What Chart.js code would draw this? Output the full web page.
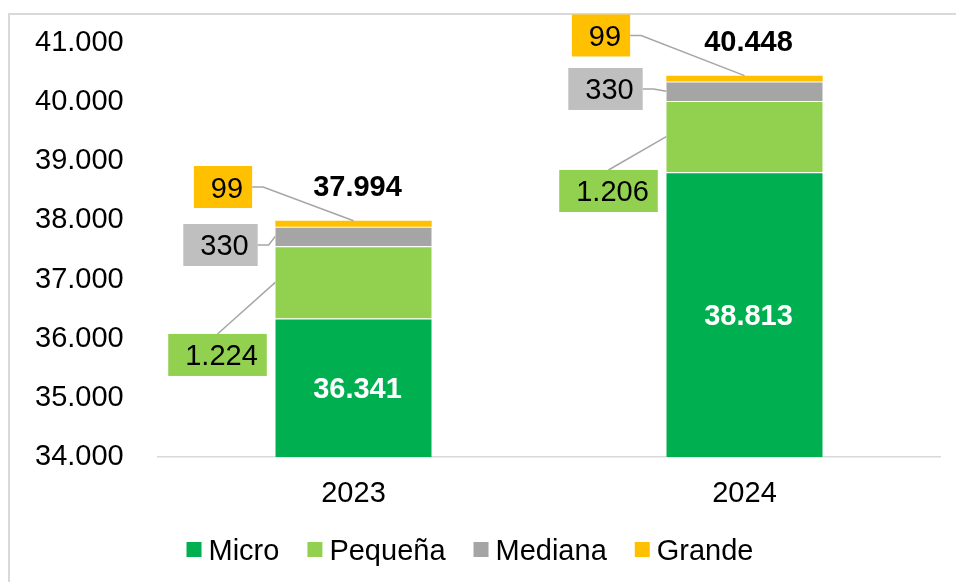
<!DOCTYPE html>
<html>
<head>
<meta charset="utf-8">
<script src="https://cdn.jsdelivr.net/npm/chart.js@4.4.1/dist/chart.umd.min.js"></script>
<style>
  body { margin: 0; background: #fff; }
  #contenedor { width: 956px; height: 582px; }
</style>
</head>
<body>
<div id="contenedor"><canvas id="graficoEmpresas"></canvas></div>
<script>
const anios = ['2023', '2024']
const micro = [36341, 38813]
const pequena = [1224, 1206]
const mediana = [330, 330]
const grande = [99, 99]
const ticksEje = [34000, 35000, 36000, 37000, 38000, 39000, 40000, 41000]

const fuente = '"Liberation Sans", Arial, sans-serif'
const tam = 29

// desplazamiento de cada caja de etiqueta respecto al centro de su segmento
const posEtiquetas = {
    1: [[-136, 72.6], [-136, 54.3]],
    2: [[-133, 8.6], [-139, -2.3]],
    3: [[-130.5, -36.7], [-143.5, -43.1]]
}
const colorCaja = { 1: '#92D050', 2: '#BFBFBF', 3: '#FFC000' }

function formatoMiles(n) {
    return String(n).replace(/\B(?=(\d{3})+(?!\d))/g, '.')
}

const marco = {
    id: 'marco',
    beforeDraw(chart) {
        const ctx = chart.ctx
        ctx.save()
        ctx.strokeStyle = '#D9D9D9'
        ctx.lineWidth = 2
        ctx.beginPath()
        ctx.moveTo(9, chart.height + 5)
        ctx.lineTo(9, 14)
        ctx.lineTo(chart.width + 5, 14)
        ctx.stroke()
        ctx.restore()
    }
}

// leyenda propia: cuadro, 7px, texto, 28px hasta el siguiente
const leyenda = {
    id: 'leyenda',
    afterDraw(chart) {
        const ctx = chart.ctx
        ctx.save()
        ctx.font = `${tam}px ${fuente}`
        ctx.textBaseline = 'alphabetic'
        ctx.textAlign = 'left'
        const items = chart.data.datasets.map(ds => ({ texto: ds.label, color: ds.backgroundColor, w: ctx.measureText(ds.label).width }))
        const total = items.reduce((s, it) => s + 15 + 7 + it.w, 0) + 28 * (items.length - 1)
        let x = 470 - total / 2
        const yc = 549.5
        items.forEach(it => {
            ctx.fillStyle = it.color
            ctx.fillRect(x, yc - 7.5, 15, 15)
            ctx.fillStyle = '#000'
            ctx.fillText(it.texto, x + 22, yc + 10.5)
            x += 15 + 7 + it.w + 28
        })
        ctx.restore()
    }
}

const etiquetas = {
    id: 'etiquetas',
    afterDatasetsDraw(chart) {
        const ctx = chart.ctx
        const fondo = chart.chartArea.bottom
        ctx.save()
        ctx.textBaseline = 'alphabetic'
        chart.data.datasets.forEach((ds, i) => {
            const meta = chart.getDatasetMeta(i)
            meta.data.forEach((bar, j) => {
                const centroY = (bar.y + Math.min(bar.base, fondo)) / 2
                const texto = formatoMiles(ds.data[j])
                if (i === 0) {
                    ctx.font = `bold ${tam}px ${fuente}`
                    ctx.fillStyle = '#fff'
                    ctx.textAlign = 'center'
                    ctx.fillText(texto, bar.x + 4, centroY + 10.5)
                    return
                }
                const [dx, dy] = posEtiquetas[i][j]
                const cx = bar.x + dx
                const cy = centroY + dy
                ctx.font = `${tam}px ${fuente}`
                const tw = ctx.measureText(texto).width
                const w = tw + 26
                const h = 42
                const izq = cx - w / 2
                const arriba = cy - h / 2
                const bordeBarra = bar.x - bar.width / 2

                ctx.strokeStyle = '#A6A6A6'
                ctx.lineWidth = 1.5
                ctx.beginPath()
                if (i === 1) {
                    ctx.moveTo(cx, arriba)
                    ctx.lineTo(bordeBarra, centroY)
                } else {
                    ctx.moveTo(izq + w, cy)
                    ctx.lineTo(izq + w + 11, cy)
                    if (i === 3) ctx.lineTo(bar.x, bar.y)
                    else ctx.lineTo(bordeBarra, centroY)
                }
                ctx.stroke()

                ctx.fillStyle = colorCaja[i]
                ctx.fillRect(izq, arriba, w, h)
                ctx.fillStyle = '#000'
                ctx.textAlign = 'left'
                ctx.fillText(texto, izq + 17, cy + 10.5)
            })
        })

        // totales sobre cada barra
        const ultimo = chart.getDatasetMeta(chart.data.datasets.length - 1)
        ctx.font = `bold ${tam}px ${fuente}`
        ctx.fillStyle = '#000'
        ctx.textAlign = 'center'
        ultimo.data.forEach((bar, j) => {
            const total = micro[j] + pequena[j] + mediana[j] + grande[j]
            ctx.fillText(formatoMiles(total), bar.x + 4, bar.y - 24.5)
        })
        ctx.restore()
    }
}

const bordeSegmento = { top: 1, left: 0, right: 0, bottom: 0 }

new Chart(document.getElementById('graficoEmpresas'), {
    type: 'bar',
    data: {
        labels: anios,
        datasets: [
            { label: 'Micro', data: micro, backgroundColor: '#00B050', borderColor: 'rgba(255,255,255,0.35)', borderWidth: bordeSegmento, borderSkipped: false },
            { label: 'Pequeña', data: pequena, backgroundColor: '#92D050', borderColor: 'rgba(255,255,255,0.35)', borderWidth: bordeSegmento, borderSkipped: false },
            { label: 'Mediana', data: mediana, backgroundColor: '#A5A5A5', borderColor: 'rgba(255,255,255,0.35)', borderWidth: bordeSegmento, borderSkipped: false },
            { label: 'Grande', data: grande, backgroundColor: '#FFC000' }
        ]
    },
    options: {
        responsive: true,
        maintainAspectRatio: false,
        animation: false,
        barPercentage: 0.8,
        categoryPercentage: 0.5,
        layout: {
            padding: { left: 35, right: 16, top: 43, bottom: 0 }
        },
        plugins: {
            legend: { display: false },
            tooltip: { enabled: false }
        },
        scales: {
            x: {
                stacked: true,
                grid: { display: false },
                border: { display: true, color: '#D9D9D9', width: 1.5 },
                afterFit: function (scale) {
                    scale.height = 125
                },
                ticks: {
                    padding: 12,
                    color: '#000',
                    font: { family: fuente, size: tam }
                }
            },
            y: {
                stacked: true,
                min: 34000,
                max: 41000,
                grid: { display: false, drawTicks: false },
                border: { display: false },
                afterBuildTicks: function (scale) {
                    scale.ticks = ticksEje.map(v => ({ value: v }))
                },
                afterFit: function (scale) {
                    scale.width = 123
                },
                ticks: {
                    padding: 0,
                    crossAlign: 'far',
                    color: '#000',
                    font: { family: fuente, size: tam },
                    callback: function (value) {
                        return formatoMiles(value)
                    }
                }
            }
        }
    },
    plugins: [marco, etiquetas, leyenda]
})
</script>
</body>
</html>
